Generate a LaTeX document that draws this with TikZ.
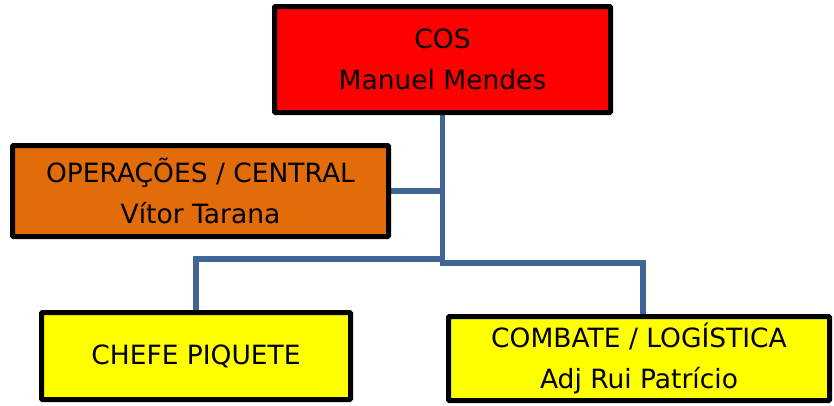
\documentclass[tikz,border=0pt]{standalone}
\usepackage{fontspec}
\setmainfont{DejaVu Sans}
\usetikzlibrary{backgrounds}
\definecolor{cosred}{RGB}{255,0,0}
\definecolor{opsorange}{RGB}{227,108,10}
\definecolor{boxyellow}{RGB}{255,255,0}
\definecolor{connblue}{RGB}{62,101,150}
\tikzset{
  orgbox/.style={draw=black, line width=5pt, rounded corners=1pt, align=center, inner sep=0pt,
    font=\fontsize{26.5}{41.5}\selectfont, text=black},
  conn/.style={draw=connblue, line width=5.5pt},
}
\begin{document}
\begin{tikzpicture}[x=1pt,y=1pt]
\useasboundingbox (0,0) rectangle (834,-405);
\node[orgbox, fill=cosred, minimum width=336pt, minimum height=106pt] (cos) at (442.5,-59.5) {COS\\Manuel Mendes};
\node[orgbox, fill=opsorange, minimum width=376pt, minimum height=91pt] (ops) at (200.5,-191) {OPERAÇÕES / CENTRAL\\Vítor Tarana};
\node[orgbox, fill=boxyellow, minimum width=309pt, minimum height=87pt] (chefe) at (196,-356) {CHEFE PIQUETE};
\node[orgbox, fill=boxyellow, minimum width=381pt, minimum height=84pt] (comb) at (639,-358.5) {COMBATE / LOGÍSTICA\\Adj Rui Patrício};
\coordinate (jl) at (442.5,-259);
\coordinate (jr) at (442.5,-263);
\coordinate (jc) at (643,-263);
\begin{scope}[on background layer]
\draw[conn] (cos.south) -- ([yshift=-2.75pt]jr);
\draw[conn] (ops.east) -- (ops.east -| jr);
\draw[conn] ([xshift=2.75pt]jl) -| (chefe.north);
\draw[conn] ([xshift=-2.75pt]jr) -- (jc) -- (jc |- comb.north);
\end{scope}
\end{tikzpicture}
\end{document}
